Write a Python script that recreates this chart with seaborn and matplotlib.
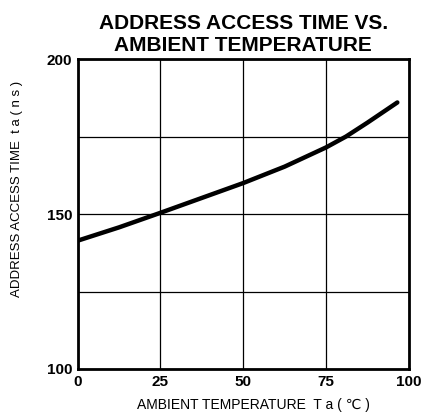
import matplotlib
matplotlib.use("Agg")
import matplotlib.pyplot as plt
import seaborn as sns
import pandas as pd

# values
temps = [0, 12.5, 25, 37.5, 50, 62.5, 75, 81, 87.5, 96.5]
access_ns = [141.4, 145.7, 150.4, 155.2, 160.0, 165.3, 171.5, 175.0, 179.5, 186.0]
x_ticks = [0, 25, 50, 75, 100]
y_ticks = [100, 150, 200]
y_grid = [100, 125, 150, 175, 200]

df = pd.DataFrame({"temp": temps, "ta": access_ns})

sns.set_theme(style="white")
plt.rcParams["font.family"] = ["Liberation Sans", "DejaVu Sans"]
plt.rcParams["text.color"] = "black"
plt.rcParams["axes.labelcolor"] = "black"
plt.rcParams["xtick.color"] = "black"
plt.rcParams["ytick.color"] = "black"

fig = plt.figure(figsize=(4.22, 4.16), dpi=100)
ax = fig.add_axes([0.184, 0.113, 0.785, 0.745])

sns.lineplot(data=df, x="temp", y="ta", ax=ax, color="black", linewidth=3.2)

ax.set_xlim(0, 100)
ax.set_ylim(100, 200)
ax.set_xticks(x_ticks)
ax.set_yticks(y_ticks)
ax.set_yticks(y_grid, minor=True)
ax.grid(True, which="both", axis="y", color="black", linewidth=0.9)
ax.grid(True, which="major", axis="x", color="black", linewidth=0.9)
ax.tick_params(which="both", length=0, labelsize=11, pad=4)
for lab in ax.get_xticklabels() + ax.get_yticklabels():
    lab.set_fontweight("bold")
for s in ax.spines.values():
    s.set_color("black")
    s.set_linewidth(2)

ax.set_xlabel("AMBIENT TEMPERATURE  T a ( ℃ )", fontsize=10)
ax.xaxis.set_label_coords(0.53, -0.095)
ax.set_ylabel("ADDRESS ACCESS TIME  t a ( n s )", fontsize=9.5)
ax.yaxis.set_label_coords(-0.165, 0.58)
ax.set_title("ADDRESS ACCESS TIME VS.\nAMBIENT TEMPERATURE",
             fontsize=15, fontweight="bold", pad=6, linespacing=1.2)

fig.savefig("out.png", dpi=100)
